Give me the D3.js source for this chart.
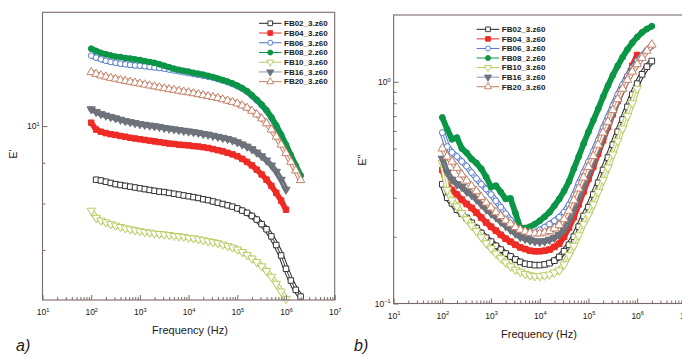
<!DOCTYPE html>
<html><head><meta charset="utf-8">
<script src="https://cdn.jsdelivr.net/npm/d3@7"></script>
<style>
body{margin:0;background:#fff}
svg{display:block}
text{font-family:Arial,"Liberation Sans",sans-serif;fill:#231815}
</style>
</head><body>
<svg id="c" width="682" height="358"></svg>
<script>
// ---------------- DATA ----------------
const seriesNames = ["FB02_3.z60","FB04_3.z60","FB06_3.z60","FB08_2.z60","FB10_3.z60","FB16_3.z60","FB20_3.z60"];

// measurement frequencies (Hz)
const freq = [100,126,158,200,251,316,398,501,631,794,
  1000,1259,1585,1995,2512,3162,3981,5012,6310,7943,
  10000,12589,15849,19953,25119,31623,39811,50119,63096,79433,
  100000,125893,158489,199526,251189,316228,398107,501187,630957,794328,
  1000000,1258925,1584893,1995262];

// panel a) : E'
const a_FB02 = [null,8.57,8.55,8.52,8.49,8.46,8.44,8.42,8.40,8.38,
  8.36,8.34,8.32,8.30,8.28,8.27,8.25,8.23,8.21,8.19,
  8.17,8.15,8.13,8.10,8.08,8.05,8.02,7.99,7.96,7.93,
  7.89,7.84,7.79,7.72,7.64,7.54,7.43,7.28,7.10,6.89,
  6.63,6.41,6.24,6.12];
const a_FB04 = [10.10,9.90,9.84,9.80,9.77,9.75,9.72,9.70,9.67,9.65,
  9.63,9.61,9.59,9.57,9.55,9.53,9.51,9.50,9.48,9.47,
  9.46,9.44,9.43,9.41,9.39,9.36,9.33,9.30,9.26,9.22,
  9.17,9.10,9.02,8.93,8.82,8.70,8.57,8.42,8.25,8.07,
  7.86,null,null,null];
const a_FB06 = [12.25,12.18,12.12,12.07,12.03,12.00,11.97,11.95,11.93,11.91,
  11.90,11.88,11.86,11.84,11.82,11.80,11.77,11.74,11.71,11.68,
  11.65,11.62,11.59,11.56,11.53,11.50,11.45,11.40,11.35,11.29,
  11.22,11.14,11.04,10.91,10.77,10.62,10.45,10.24,10.00,9.74,
  9.46,9.18,8.91,8.66];
const a_FB08 = [12.50,12.42,12.35,12.30,12.26,12.22,12.20,12.17,12.15,12.12,
  12.10,12.06,12.03,12.00,11.95,11.90,11.85,11.80,11.76,11.73,
  11.70,11.66,11.63,11.60,11.56,11.52,11.47,11.42,11.37,11.31,
  11.24,11.16,11.06,10.93,10.79,10.64,10.47,10.26,10.02,9.76,
  9.48,9.20,8.93,8.68];
const a_FB10 = [7.84,7.68,7.62,7.58,7.54,7.51,7.48,7.45,7.43,7.41,
  7.39,7.37,7.36,7.34,7.33,7.32,7.31,7.29,7.28,7.27,
  7.25,7.24,7.22,7.20,7.18,7.16,7.14,7.11,7.08,7.05,
  7.01,6.96,6.90,6.83,6.76,6.68,6.59,6.48,6.35,6.21,
  6.08,null,null,null];
const a_FB16 = [10.50,10.42,10.36,10.31,10.27,10.23,10.19,10.15,10.12,10.09,
  10.06,10.04,10.02,10.00,9.98,9.95,9.93,9.91,9.89,9.87,
  9.85,9.83,9.81,9.78,9.76,9.73,9.70,9.67,9.64,9.60,
  9.55,9.49,9.43,9.36,9.27,9.17,9.06,8.93,8.77,8.57,
  8.33,null,null,null];
const a_FB20 = [11.68,11.62,11.57,11.53,11.49,11.46,11.42,11.39,11.36,11.33,
  11.30,11.27,11.24,11.21,11.18,11.15,11.12,11.10,11.07,11.04,
  11.02,10.99,10.96,10.93,10.90,10.87,10.84,10.80,10.76,10.72,
  10.67,10.61,10.54,10.45,10.34,10.22,10.08,9.90,9.70,9.48,
  9.25,9.02,8.80,8.56];

// panel b) : E''
const b_FB02 = [0.345,0.300,0.283,0.265,0.254,0.243,0.231,0.219,0.208,0.198,
  0.190,0.182,0.175,0.168,0.163,0.158,0.154,0.151,0.150,0.149,
  0.149,0.150,0.152,0.156,0.162,0.172,0.184,0.200,0.222,0.248,
  0.272,0.310,0.350,0.400,0.455,0.520,0.595,0.675,0.770,0.875,
  0.980,1.080,1.170,1.240];
const b_FB04 = [0.400,0.340,0.325,0.310,0.294,0.281,0.270,0.257,0.244,0.232,
  0.222,0.213,0.204,0.196,0.190,0.184,0.179,0.176,0.173,0.172,
  0.172,0.173,0.175,0.180,0.186,0.200,0.220,0.245,0.280,0.320,
  0.365,0.415,0.475,0.545,0.625,0.715,0.820,0.930,1.050,1.180,
  1.320,null,null,null];
const b_FB06 = [0.590,0.510,0.480,0.460,0.437,0.416,0.390,0.366,0.345,0.328,
  0.310,0.290,0.272,0.254,0.238,0.224,0.213,0.207,0.206,0.209,
  0.215,0.221,0.228,0.236,0.245,0.258,0.278,0.308,0.348,0.390,
  0.435,0.485,0.545,0.620,0.693,0.780,0.875,0.970,1.060,1.150,
  1.240,1.310,1.390,1.450];
const b_FB08 = [0.690,0.610,0.550,0.560,0.500,0.478,0.448,0.430,0.405,0.372,
  0.335,0.340,0.318,0.296,0.298,0.256,0.220,0.219,0.222,0.228,
  0.236,0.246,0.258,0.276,0.296,0.322,0.355,0.405,0.460,0.525,
  0.595,0.670,0.755,0.855,0.960,1.070,1.180,1.290,1.400,1.500,
  1.590,1.670,1.730,1.780];
const b_FB10 = [0.430,0.325,0.292,0.274,0.256,0.240,0.225,0.212,0.199,0.187,
  0.177,0.168,0.160,0.153,0.147,0.142,0.139,0.136,0.134,0.133,
  0.133,0.134,0.135,0.138,0.141,0.150,0.165,0.182,0.203,0.228,
  0.250,0.280,0.318,0.360,0.410,0.470,0.540,0.615,0.700,0.800,
  0.930,null,null,null];
const b_FB16 = [0.450,0.390,0.362,0.345,0.336,0.320,0.309,0.295,0.280,0.266,
  0.255,0.245,0.234,0.224,0.215,0.207,0.200,0.196,0.193,0.191,
  0.190,0.191,0.194,0.198,0.204,0.215,0.235,0.265,0.300,0.340,
  0.385,0.435,0.495,0.560,0.635,0.720,0.815,0.920,1.020,1.120,
  1.200,null,null,null];
const b_FB20 = [0.500,0.460,0.436,0.409,0.382,0.358,0.338,0.321,0.302,0.285,
  0.271,0.258,0.248,0.237,0.229,0.221,0.215,0.211,0.208,0.207,
  0.207,0.209,0.212,0.218,0.226,0.240,0.262,0.292,0.330,0.370,
  0.413,0.462,0.520,0.590,0.660,0.745,0.835,0.930,1.020,1.110,
  1.200,1.280,1.380,1.470];

// axis ticks
const xMajorTicks = [1e1,1e2,1e3,1e4,1e5,1e6,1e7];
const aYMajorTicks = [10];
const bYMajorTicks = [0.1,1];
const xTitle = "Frequency (Hz)";
const aYTitle = "E'";
const bYTitle = "E''";

// ---------------- STYLES ----------------
const styles = [
  {color:"#2a2526", sym:"square",  fill:"#ffffff", open:true},
  {color:"#ee2b25", sym:"square",  fill:"#ee2b25"},
  {color:"#4d74c9", sym:"circle",  fill:"#ffffff", open:true},
  {color:"#0b9547", sym:"circle",  fill:"#0b9547"},
  {color:"#b6ca5a", sym:"triDown", fill:"#ffffff", open:true},
  {color:"#6d727b", sym:"triDown", fill:"#6d727b", line:"#8797bb"},
  {color:"#c27c61", sym:"triUp",   fill:"#ffffff", open:true}
];
const frameColor = "#7a6b68";

const svg = d3.select("#c");

function symPath(sym, size){
  const t = sym==="square"?d3.symbolSquare: sym==="circle"?d3.symbolCircle: d3.symbolTriangle;
  return d3.symbol().type(t).size(size)();
}
function rot(sym){ return sym==="triDown" ? " rotate(180)" : ""; }

function minorTicks(domain){
  const out=[];
  const d0=Math.floor(Math.log10(domain[0])), d1=Math.ceil(Math.log10(domain[1]));
  for(let d=d0; d<=d1; d++) for(let m=2;m<=9;m++){
    const v=m*Math.pow(10,d);
    if(v>domain[0]*1.001 && v<domain[1]*0.999) out.push(v);
  }
  return out;
}

function supLabel(sel){
  sel.each(function(d){
    const t=d3.select(this); t.text(null);
    const e=Math.round(Math.log10(d));
    t.append("tspan").text("10");
    t.append("tspan").attr("font-size","5.6px").attr("dy","-3.4").text(String(e).replace("-","\u2212"));
  });
}

function drawPanel(cfg){
  const x = d3.scaleLog().domain([10,1e7]).range([cfg.l,cfg.r]);
  const y = d3.scaleLog().domain(cfg.yDomain).range([cfg.b,cfg.t]);
  const g = svg.append("g");
  const lineGen = d3.line().x(d=>x(d[0])).y(d=>y(d[1]));

  // series: dense marker band + connecting line + markers
  cfg.data.forEach((vals,i)=>{
    const st=styles[i];
    const pts=freq.map((f,j)=>[f,vals[j]]).filter(d=>d[1]!=null);
    const sg=g.append("g");
    const bw=cfg.band;
    sg.append("path").attr("d",lineGen(pts)).attr("fill","none")
      .attr("stroke",st.color).attr("stroke-width",bw).attr("stroke-linejoin","round").attr("stroke-linecap","round");
    if(st.open){
      sg.append("path").attr("d",lineGen(pts)).attr("fill","none")
        .attr("stroke","#ffffff").attr("stroke-width",bw-2).attr("stroke-linejoin","round").attr("stroke-linecap","round");
    }
    sg.append("path").attr("d",lineGen(pts)).attr("fill","none")
      .attr("stroke",st.line||st.color).attr("stroke-width",0.9);
    const p = symPath(st.sym, st.sym==="circle"?cfg.msize*0.85:cfg.msize);
    sg.append("g").selectAll("path").data(pts).join("path")
      .attr("transform", d=>`translate(${x(d[0])},${y(d[1])})${rot(st.sym)}`)
      .attr("d", p).attr("fill", st.fill).attr("stroke", st.color).attr("stroke-width",0.9);
  });

  // frame
  g.append("rect").attr("x",cfg.l).attr("y",cfg.t).attr("width",cfg.r-cfg.l).attr("height",cfg.b-cfg.t)
    .attr("fill","none").attr("stroke",frameColor).attr("stroke-width",1.1);

  // x axis: major + minor ticks pointing inward
  const xa = g.append("g").attr("transform",`translate(0,${cfg.b})`)
    .call(d3.axisBottom(x).tickValues(xMajorTicks).tickSize(-5).tickPadding(9).tickFormat(d=>d));
  const xm = g.append("g").attr("transform",`translate(0,${cfg.b})`)
    .call(d3.axisBottom(x).tickValues(minorTicks([10,1e7])).tickSize(-3).tickFormat(""));
  [xa,xm].forEach(a=>{a.select(".domain").remove(); a.selectAll("line").attr("stroke",frameColor);});
  xa.selectAll("text").attr("font-size","8.5px").attr("fill","#231815").attr("dy","0.71em").call(supLabel);

  // y axis
  const ya = g.append("g").attr("transform",`translate(${cfg.l},0)`)
    .call(d3.axisLeft(y).tickValues(cfg.yMajor).tickSize(-5).tickPadding(3).tickFormat(d=>d));
  const ym = g.append("g").attr("transform",`translate(${cfg.l},0)`)
    .call(d3.axisLeft(y).tickValues(minorTicks(cfg.yDomain)).tickSize(-3).tickFormat(""));
  [ya,ym].forEach(a=>{a.select(".domain").remove(); a.selectAll("line").attr("stroke",frameColor);});
  ya.selectAll("text").attr("font-size","8.5px").attr("fill","#231815").call(supLabel);

  // titles
  g.append("text").attr("x",cfg.xTitleX).attr("y",cfg.b+34).attr("text-anchor","middle")
    .attr("font-size","11px").text(xTitle);
  g.append("text").attr("transform",`translate(${cfg.yTitleX},${cfg.yTitleY}) rotate(-90)`)
    .attr("text-anchor","middle").attr("font-size","10.5px").text(cfg.yTitle);

  // legend
  seriesNames.forEach((name,i)=>{
    const st=styles[i];
    const yy=cfg.lg.y0+i*cfg.lg.dy;
    g.append("line").attr("x1",cfg.lg.x0).attr("x2",cfg.lg.x1).attr("y1",yy).attr("y2",yy)
      .attr("stroke",st.line||st.color).attr("stroke-width",1);
    g.append("path").attr("transform",`translate(${(cfg.lg.x0+cfg.lg.x1)/2},${yy})${rot(st.sym)}`)
      .attr("d",symPath(st.sym, st.sym==="circle"?20:22)).attr("fill",st.fill).attr("stroke",st.color).attr("stroke-width",0.9);
    g.append("text").attr("x",cfg.lg.x1+2.5).attr("y",yy).attr("dy","0.35em")
      .attr("font-size","8px").attr("font-weight","bold").text(name);
  });

  g.append("text").attr("x",cfg.tagX).attr("y",cfg.tagY)
    .attr("font-family","'Liberation Serif','DejaVu Serif',serif").attr("font-style","italic")
    .attr("font-size","16px").text(cfg.tag);
}

drawPanel({
  l:42.5, r:334.7, t:12.3, b:300, yDomain:[6.06,13.88], yMajor:aYMajorTicks,
  data:[a_FB02,a_FB04,a_FB06,a_FB08,a_FB10,a_FB16,a_FB20], msize:30, band:5.6,
  xTitleX:190, yTitle:aYTitle, yTitleX:17, yTitleY:154,
  lg:{x0:259,x1:281.5,y0:23.3,dy:9.73},
  tag:"a)", tagX:16, tagY:351
});
drawPanel({
  l:393.6, r:685.9, t:15, b:303.5, yDomain:[0.1,2.0], yMajor:bYMajorTicks,
  data:[b_FB02,b_FB04,b_FB06,b_FB08,b_FB10,b_FB16,b_FB20], msize:32, band:5.8,
  xTitleX:539, yTitle:bYTitle, yTitleX:366, yTitleY:160,
  lg:{x0:476.7,x1:499.3,y0:29.3,dy:9.57},
  tag:"b)", tagX:354, tagY:351
});
</script>
</body></html>
